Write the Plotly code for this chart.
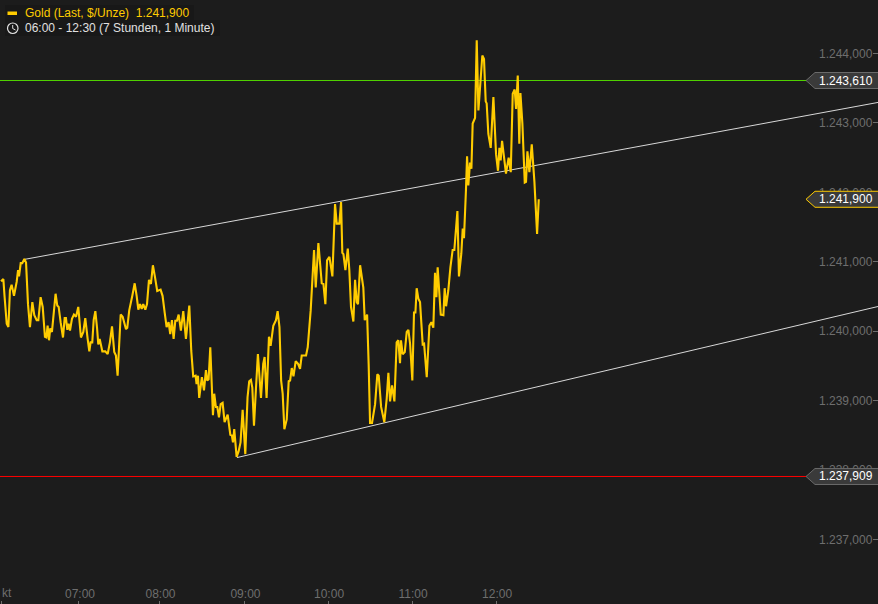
import plotly.graph_objects as go

# elapsed axis minutes (chart's time axis) and gold price
minutes = [0.7,2.4,3.3,4.8,6.0,7.1,8.3,10.0,11.9,12.9,13.6,14.8,15.9,17.4,18.6,20.0,21.4,23.1,24.5,26.2,27.4,29.0,30.5,32.1,33.1,34.0,35.0,35.9,37.1,38.3,39.7,40.9,41.9,43.3,45.0,46.2,47.1,48.1,49.0,50.0,51.4,52.8,54.3,55.9,57.8,59.5,60.9,62.6,63.8,64.7,65.9,66.9,68.1,69.3,70.2,71.2,73.1,75.2,76.9,78.5,80.0,81.6,82.8,84.0,86.2,87.6,90.0,90.9,92.3,94.5,96.2,97.6,98.8,100.0,101.2,102.3,103.8,105.0,106.4,107.8,109.2,110.7,112.3,114.7,116.1,117.6,119.0,120.4,121.6,122.8,124.0,125.2,126.4,127.6,129.2,130.9,132.8,135.2,136.6,138.0,139.7,140.4,141.4,142.3,144.2,145.7,147.1,148.0,149.0,150.2,152.1,153.0,154.2,155.2,156.4,157.6,159.0,160.4,162.6,164.5,165.6,166.4,167.3,169.0,170.4,171.8,173.3,175.2,176.8,178.0,179.2,180.2,181.4,182.8,184.2,186.4,188.0,189.0,190.4,192.1,193.3,195.2,197.1,198.3,
199.6,200.8,201.9,203.1,204.8,206.2,207.2,208.4,209.6,211.2,212.9,214.3,215.5,218.6,219.8,221.9,224.3,225.5,227.4,229.8,231.0,232.4,233.6,235.3,237.4,239.3,240.5,242.4,243.6,244.5,245.3,246.7,248.4,249.5,250.7,252.4,253.6,254.8,255.7,257.2,259.5,260.5,262.2,263.3,264.3,265.7,267.9,269.5,270.5,272.2,274.5,276.2,277.4,278.6,280.0,281.7,283.3,284.5,285.7,286.4,287.6,289.1,290.5,291.7,292.9,294.5,295.7,296.7,297.6,298.8,300.0,301.9,302.9,304.8,306.7,308.1,309.5,310.7,311.7,312.6,314.8,316.7,317.6,318.6,320.2,321.7,323.3,324.5,326.7,327.8,329.5,330.5,331.4,332.8,
333.6,334.5,335.7,336.7,337.6,339.3,340.5,341.7,344.5,345.7,346.9,347.6,348.8,350.5,352.4,354.3,355.7,356.7,357.6,358.6,361.4,363.3,364.8,366.2,367.6,368.6,369.8,370.9,371.7,373.1,374.8,375.7,376.7,378.1,379.8,381.7,383.6,384.8]
gold = [1240.72,1240.75,1240.49,1240.11,1240.06,1240.59,1240.67,1240.51,1240.71,1240.88,1240.79,1240.98,1240.98,1241.04,1240.99,1240.39,1240.06,1240.42,1240.23,1240.16,1240.16,1240.49,1240.35,1239.92,1239.91,1240.08,1239.87,1240.04,1239.99,1240.25,1240.54,1240.37,1240.35,1240.13,1239.91,1240.19,1240.19,1240.02,1240.11,1240.01,1240.18,1240.24,1240.21,1240.35,1239.91,1239.99,1240.19,1239.89,1239.71,1239.84,1239.84,1240.16,1240.29,1240.05,1239.81,1239.89,1239.71,1239.71,1239.67,1239.84,1240.07,1239.70,1239.65,1239.36,1240.24,1240.21,1240.03,1240.05,1240.30,1240.51,1240.69,1240.51,1240.31,1240.39,1240.32,1240.39,1240.31,1240.39,1240.74,1240.68,1240.95,1240.78,1240.58,1240.60,1240.51,1240.27,1240.06,1240.13,1239.96,1240.16,1239.89,1240.15,1240.15,1240.24,1240.01,1240.29,1239.89,1240.37,1239.72,1239.35,1239.36,1239.24,1239.36,1239.04,1239.34,1239.15,1239.44,1239.29,1239.31,1239.77,1238.79,1239.10,1238.91,1238.91,1238.76,1238.95,1238.97,1238.69,1238.80,1238.51,1238.50,1238.40,1238.59,1238.19,1238.27,1238.40,1238.87,1238.23,1239.05,1239.28,1239.30,1239.19,1238.64,1239.17,1239.67,1239.04,1239.53,1239.63,1239.04,1239.92,1239.79,1240.08,1240.16,1240.29,
1240.06,1239.29,1239.10,1238.59,1238.73,1239.28,1239.29,1239.47,1239.35,1239.57,1239.53,1239.46,1239.65,1239.65,1239.77,1240.30,1241.17,1240.63,1241.27,1240.69,1240.68,1240.39,1241.02,1241.07,1240.79,1241.83,1241.55,1241.55,1241.86,1241.13,1241.11,1240.88,1241.19,1240.88,1240.35,1240.14,1240.74,1240.42,1240.39,1240.95,1240.63,1240.16,1240.24,1239.53,1238.68,1238.68,1238.95,1239.38,1239.36,1238.91,1238.69,1239.03,1239.40,1238.99,1239.22,1238.99,1239.84,1239.87,1239.54,1239.87,1239.67,1239.70,1239.99,1240.02,1239.82,1239.29,1240.27,1240.27,1240.62,1240.47,1240.42,1239.81,1239.82,1239.34,1240.08,1240.13,1240.05,1240.84,1240.49,1240.92,1240.24,1240.23,1240.62,1240.36,1240.59,1240.92,1241.17,1241.17,1241.73,1240.79,1241.12,1241.48,1241.34,1242.03,
1242.52,1242.10,1242.43,1242.34,1242.99,1243.07,1244.19,1243.18,1243.97,1243.92,1243.31,1243.28,1242.84,1242.64,1243.37,1242.55,1242.31,1242.64,1242.46,1242.74,1242.27,1242.50,1242.29,1243.42,1243.48,1243.20,1243.68,1242.70,1243.43,1242.99,1242.14,1242.15,1242.59,1242.29,1242.69,1242.15,1241.40,1241.90]

upper_x = [17.1, 627.1]
upper_y = [1241.033, 1243.294]
lower_x = [169.3, 627.1]
lower_y = [1238.181, 1240.356]

high_level = 1243.610
low_level = 1237.909
last_price = 1241.900

x_tickvals = [1.1, 56.4, 113.9, 174.6, 234.3, 294.3, 354.3]
x_ticktext = ["", "07:00", "08:00", "09:00", "10:00", "11:00", "12:00"]
clipped_label = "kt"
y_tickvals = [1237, 1238, 1239, 1240, 1241, 1242, 1243, 1244]
y_ticktext = ["1.237,000", "1.238,000", "1.239,000", "1.240,000",
              "1.241,000", "1.242,000", "1.243,000", "1.244,000"]
legend_title = "Gold (Last, $/Unze)\u00a0\u00a01.241,900"
legend_period = "06:00 - 12:30 (7 Stunden, 1 Minute)"

W, H = 878, 604
BG = "#1c1c1c"
FONT = "Liberation Sans, Arial, sans-serif"
GOLD = "#ffcc00"
TICK = "#6e6e6e"
px = lambda v: v / W
py = lambda v: 1 - v / H

fig = go.Figure()
for xs, ys in ((upper_x, upper_y), (lower_x, lower_y)):
    fig.add_trace(go.Scatter(x=xs, y=ys, mode="lines", hoverinfo="skip",
                             line=dict(color="#d8d8d8", width=1)))
fig.add_trace(go.Scatter(x=minutes, y=gold, mode="lines", name="Gold",
                         line=dict(color=GOLD, width=2.1, shape="linear")))

shapes = [
    dict(type="line", xref="paper", x0=0, x1=1, yref="y", y0=high_level, y1=high_level,
         line=dict(color="#4fd000", width=1), layer="below"),
    dict(type="line", xref="paper", x0=0, x1=1, yref="y", y0=low_level, y1=low_level,
         line=dict(color="#ff0000", width=1), layer="below"),
    # legend backing
    dict(type="rect", xref="paper", yref="paper", x0=px(5), x1=px(194), y0=py(20), y1=py(5),
         fillcolor="#181818", line_width=0, layer="below"),
    dict(type="rect", xref="paper", yref="paper", x0=px(5), x1=px(220), y0=py(36), y1=py(20),
         fillcolor="#181818", line_width=0, layer="below"),
    # legend swatch
    dict(type="rect", xref="paper", yref="paper", x0=px(7.5), x1=px(17), y0=py(15), y1=py(11.5),
         fillcolor=GOLD, line_width=0),
    # clock icon
    dict(type="circle", xref="paper", yref="paper", x0=px(7.5), x1=px(18), y0=py(33.5), y1=py(23),
         line=dict(color="#e0e0e0", width=1.2)),
    dict(type="line", xref="paper", yref="paper", x0=px(12.7), x1=px(12.7), y0=py(25), y1=py(28.5),
         line=dict(color="#e0e0e0", width=1)),
    dict(type="line", xref="paper", yref="paper", x0=px(12.7), x1=px(15.5), y0=py(28.5), y1=py(30),
         line=dict(color="#e0e0e0", width=1)),
]
annotations = [
    dict(xref="paper", yref="paper", x=px(23), y=py(13), xanchor="left", yanchor="middle",
         text=legend_title, showarrow=False, font=dict(family=FONT, size=12, color=GOLD)),
    dict(xref="paper", yref="paper", x=px(23), y=py(28.5), xanchor="left", yanchor="middle",
         text=legend_period, showarrow=False, font=dict(family=FONT, size=12, color="#e0e0e0")),
    dict(xref="paper", yref="paper", x=px(-0.5), y=py(593), xanchor="left", yanchor="middle",
         text=clipped_label, showarrow=False, font=dict(family=FONT, size=12, color=TICK)),
]
for level, edge, label in ((high_level, "#6a6a6a", "1.243,610"),
                           (low_level, "#6a6a6a", "1.237,909"),
                           (last_price, GOLD, "1.241,900")):
    shapes.append(dict(type="path", xref="x", xsizemode="pixel", xanchor=627.1,
                       yref="y", ysizemode="pixel", yanchor=level,
                       path="M -72 0 L -63 -8 L 3 -8 L 3 8 L -63 8 Z",
                       fillcolor="#3a3a3a", line=dict(color=edge, width=1)))
    annotations.append(dict(xref="paper", x=px(817), xanchor="left", yref="y", y=level,
                            yanchor="middle", text=label, showarrow=False,
                            font=dict(family=FONT, size=12, color="#ffffff")))

fig.update_layout(
    width=W, height=H, margin=dict(l=0, r=0, t=0, b=0),
    paper_bgcolor=BG, plot_bgcolor=BG, showlegend=False,
    font=dict(family=FONT, size=12, color=TICK),
    shapes=shapes, annotations=annotations,
    xaxis=dict(range=[0, 627.1], showgrid=False, zeroline=False, showline=False,
               tickmode="array", tickvals=x_tickvals, ticktext=x_ticktext,
               ticks="inside", ticklen=3, tickcolor=TICK, ticklabelposition="inside",
               ticklabelshift=1,
               tickfont=dict(family=FONT, size=12, color=TICK)),
    yaxis=dict(range=[1236.073, 1244.769], side="right", showgrid=False, zeroline=False,
               showline=False, tickmode="array", tickvals=y_tickvals, ticktext=y_ticktext,
               ticks="inside", ticklen=5, tickcolor=TICK, ticklabelposition="inside",
               tickfont=dict(family=FONT, size=12, color=TICK)),
)

fig.write_html("out.html", config=dict(displayModeBar=False),
               post_script="document.body.style.margin='0';document.body.style.overflow='hidden';")
